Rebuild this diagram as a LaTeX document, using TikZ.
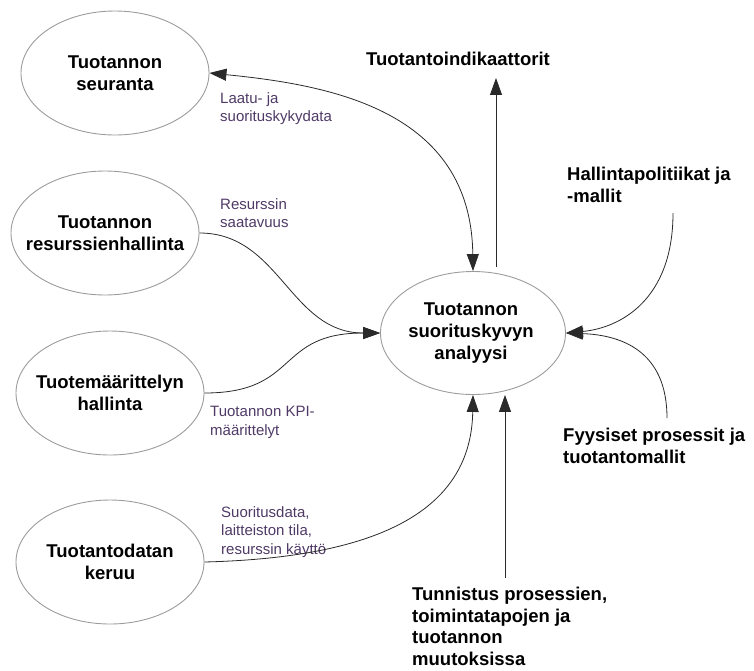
\documentclass[tikz,border=0pt]{standalone}
\usepackage{fontspec}
\setmainfont{Liberation Sans}
\usetikzlibrary{shapes.geometric,arrows.meta}
\definecolor{edgelbl}{HTML}{4F3A66}
\definecolor{rim}{HTML}{9C9C9C}
\definecolor{wire}{HTML}{2A2A2A}
\tikzset{
  blob/.style={ellipse, draw=rim, line width=0.9pt, minimum width=188pt,
    minimum height=124pt, inner sep=0pt},
  blobtext/.style={inner sep=0pt, align=center,
    font=\fontsize{18.5}{22}\selectfont\bfseries},
  outer/.style={anchor=north west, inner sep=0pt, align=left,
    font=\fontsize{18.5}{21.5}\selectfont\bfseries},
  flowlbl/.style={anchor=north west, inner sep=0pt, align=left, text=edgelbl,
    font=\fontsize{15}{18.5}\selectfont},
  link/.style={draw=wire, line width=0.8pt},
}
\begin{document}
\begin{tikzpicture}[x=1pt, y=-1pt, >={Triangle[length=17pt,width=12pt]}]
\useasboundingbox (0,0) rectangle (754,670);

% source and sink processes
\node[blob] (seu) at (115,73) {};
\node[blobtext] (seu-t) at (seu) {Tuotannon\\seuranta};
\node[blob] (res) at (105,233) {};
\node[blobtext] (res-t) at (res) {Tuotannon\\resurssienhallinta};
\node[blob] (tuo) at (110,393) {};
\node[blobtext] (tuo-t) at (tuo) {Tuotemäärittelyn\\hallinta};
\node[blob] (ker) at (110,562) {};
\node[blobtext] (ker-t) at (ker) {Tuotantodatan\\keruu};

% central analysis process
\node[blob, minimum width=185pt, minimum height=123pt] (ana) at (473,333) {};
\node[blobtext] (ana-t) at (471,333) {Tuotannon\\suorituskyvyn\\analyysi};

% external inputs and outputs
\node[outer] (ind) at (366,52) {Tuotantoindikaattorit};
\node[outer] (pol) at (567,167) {Hallintapolitiikat ja\\-mallit};
\node[outer] (fys) at (563,428) {Fyysiset prosessit ja\\tuotantomallit};
\node[outer] (tun) at (412,587) {Tunnistus prosessien,\\toimintatapojen ja\\tuotannon\\muutoksissa};

% flow labels
\node[flowlbl] (l-laatu) at (220,92) {Laatu- ja\\suorituskykydata};
\node[flowlbl] (l-res) at (220,198) {Resurssin\\saatavuus};
\node[flowlbl] (l-kpi) at (210,406) {Tuotannon KPI-\\määrittelyt};
\node[flowlbl] (l-suor) at (221,506) {Suoritusdata,\\laitteiston tila,\\resurssin käyttö};

% free ends of the external flows
\coordinate (upfoot) at (496,267);
\coordinate (polfoot) at (673,213);
\coordinate (fysfoot) at (667,418);
\coordinate (tunfoot) at (505,578);

% connectors
\draw[link,<->] (seu.east) .. controls (330,85) and (471,110) .. (ana.north);
\draw[link,->] (upfoot) -- ([yshift=-12pt]upfoot |- ind.south);
\draw[link,->] (polfoot) .. controls (673,300) and (620,328) .. (ana.east);
\draw[link,->] (fysfoot) .. controls (667,350) and (620,335) .. (ana.east);
\draw[link,->] (tunfoot) -- (tunfoot |- ana.south);
\draw[link,->] (ker.east) .. controls (360,558) and (471,520) .. (ana.south);
\draw[link,->] (tuo.east) .. controls (300,393) and (275,333) .. (ana.west);
\draw[link,->] (res.east) .. controls (280,233) and (290,333) .. (ana.west);
\end{tikzpicture}
\end{document}
